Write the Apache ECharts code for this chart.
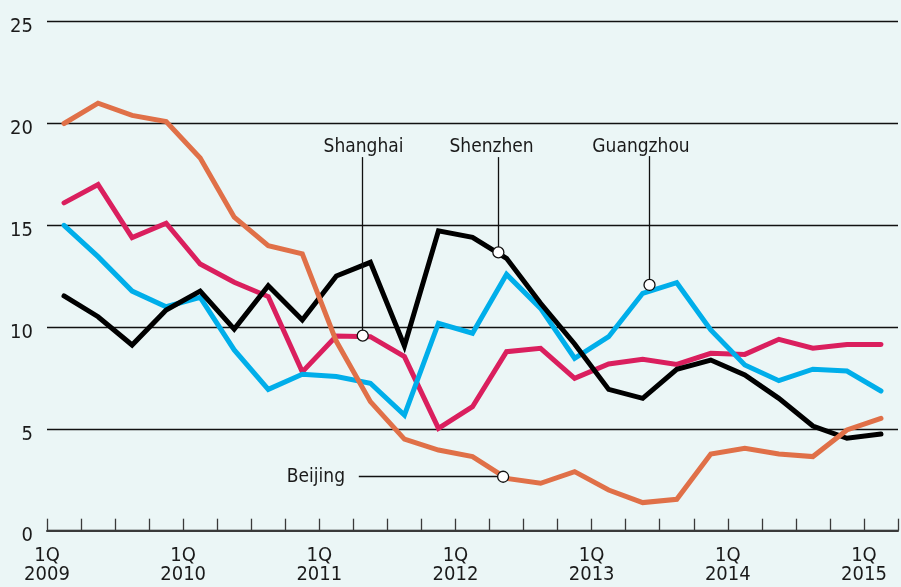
<!DOCTYPE html>
<html>
<head>
<meta charset="utf-8">
<script src="https://cdn.jsdelivr.net/npm/echarts@6/dist/echarts.min.js"></script>
<style>
html, body { margin: 0; padding: 0; background: #ebf6f6; }
#main { width: 901px; height: 587px; }
</style>
</head>
<body>
<div id="main"></div>
<script>
// quarters, 1Q 2009 .. 1Q 2015
var quarters = [
    '1Q 2009', '2Q 2009', '3Q 2009', '4Q 2009',
    '1Q 2010', '2Q 2010', '3Q 2010', '4Q 2010',
    '1Q 2011', '2Q 2011', '3Q 2011', '4Q 2011',
    '1Q 2012', '2Q 2012', '3Q 2012', '4Q 2012',
    '1Q 2013', '2Q 2013', '3Q 2013', '4Q 2013',
    '1Q 2014', '2Q 2014', '3Q 2014', '4Q 2014',
    '1Q 2015'
];
var years = ['2009', '2010', '2011', '2012', '2013', '2014', '2015'];
var yTicks = [0, 5, 10, 15, 20, 25];

var shanghai = [16.1, 17.0, 14.4, 15.1, 13.1, 12.2, 11.5, 7.8, 9.56, 9.53, 8.55, 5.03, 6.09, 8.79, 8.96, 7.48, 8.19, 8.42, 8.17, 8.71, 8.66, 9.4, 8.96, 9.15, 9.14];
var guangzhou = [15.0, 13.46, 11.77, 11.0, 11.46, 8.88, 6.94, 7.68, 7.57, 7.24, 5.68, 10.19, 9.7, 12.59, 10.92, 8.47, 9.53, 11.66, 12.18, 9.86, 8.14, 7.37, 7.93, 7.84, 6.86];
var shenzhen = [11.53, 10.51, 9.12, 10.84, 11.77, 9.9, 12.03, 10.35, 12.51, 13.18, 9.07, 14.73, 14.41, 13.38, 11.17, 9.17, 6.94, 6.5, 7.93, 8.38, 7.65, 6.5, 5.14, 4.54, 4.75];
var beijing = [20.0, 21.0, 20.4, 20.1, 18.3, 15.4, 14.0, 13.6, 9.3, 6.34, 4.5, 3.96, 3.64, 2.57, 2.33, 2.9, 2.0, 1.38, 1.54, 3.77, 4.05, 3.77, 3.64, 4.95, 5.52];

var FONT = "'Liberation Sans Narrow', 'DejaVu Sans Condensed', 'Liberation Sans', sans-serif";

// points sit in the middle of each quarter
function toXY(vals) {
    return vals.map(function (v, i) { return [i + 0.5, v]; });
}

function leader(from, to) {
    return {
        silent: true,
        symbol: ['none', 'none'],
        label: { show: false },
        lineStyle: { color: '#111', width: 1.3, type: 'solid' },
        emphasis: { disabled: true },
        data: [[{ coord: from }, { coord: to }]]
    };
}

function callout(name, textAt, circleAt) {
    return {
        silent: true,
        data: [
            {
                name: name, coord: textAt, symbol: 'circle', symbolSize: 1,
                itemStyle: { color: 'rgba(0,0,0,0)' },
                label: { show: true, position: 'inside', formatter: name, color: '#1a1a1a', fontSize: 19, fontFamily: FONT }
            },
            {
                coord: circleAt, symbol: 'circle', symbolSize: 11,
                itemStyle: { color: '#fff', borderColor: '#111', borderWidth: 1.3 },
                label: { show: false }
            }
        ]
    };
}

function lineSeries(name, vals, color) {
    return {
        name: name,
        type: 'line',
        data: toXY(vals),
        symbol: 'none',
        silent: true,
        lineStyle: { color: color, width: 5, cap: 'round', join: 'miter' },
        emphasis: { disabled: true }
    };
}

var chart = echarts.init(document.getElementById('main'), null, { renderer: 'canvas' });

var sh = lineSeries('Shanghai', shanghai, '#da1f5e');
sh.markLine = leader([9.275, 18.35], [9.275, 9.58]);
sh.markPoint = callout('Shanghai', [9.3, 18.85], [9.275, 9.58]);

var gz = lineSeries('Guangzhou', guangzhou, '#00aeea');
gz.markLine = leader([17.7, 18.4], [17.7, 12.07]);
gz.markPoint = callout('Guangzhou', [17.45, 18.85], [17.7, 12.07]);

var sz = lineSeries('Shenzhen', shenzhen, '#000000');
sz.markLine = leader([13.26, 18.35], [13.26, 13.67]);
sz.markPoint = callout('Shenzhen', [13.06, 18.85], [13.26, 13.67]);

var bj = lineSeries('Beijing', beijing, '#e07048');
bj.markLine = leader([9.16, 2.65], [13.4, 2.65]);
bj.markPoint = callout('Beijing', [7.9, 2.62], [13.4, 2.65]);

var option = {
    backgroundColor: '#ebf6f6',
    animation: false,
    grid: { left: 47, right: -5, top: 21.7, bottom: 56.3, containLabel: false },
    xAxis: {
        type: 'value',
        min: 0,
        max: quarters.length,
        interval: 1,
        axisLine: { show: true, onZero: false, lineStyle: { color: '#3a3a3a', width: 2 } },
        axisTick: { show: true, inside: true, length: 12, lineStyle: { color: '#3a3a3a', width: 1.3 } },
        splitLine: { show: false },
        axisLabel: {
            margin: 16,
            fontSize: 20,
            lineHeight: 19,
            fontFamily: FONT,
            color: '#1a1a1a',
            formatter: function (v) {
                if (v % 4 === 0 && years[v / 4]) return '1Q\n' + years[v / 4];
                return '';
            }
        }
    },
    yAxis: {
        type: 'value',
        min: yTicks[0],
        max: yTicks[yTicks.length - 1],
        interval: 5,
        axisLine: { show: false },
        axisTick: { show: false },
        splitLine: { lineStyle: { color: '#111', width: 1.3 } },
        axisLabel: {
            margin: 14,
            fontSize: 20,
            fontFamily: FONT,
            color: '#1a1a1a',
            verticalAlign: 'top',
            lineHeight: 11
        }
    },
    series: [sh, gz, sz, bj]
};

chart.setOption(option);
</script>
</body>
</html>
